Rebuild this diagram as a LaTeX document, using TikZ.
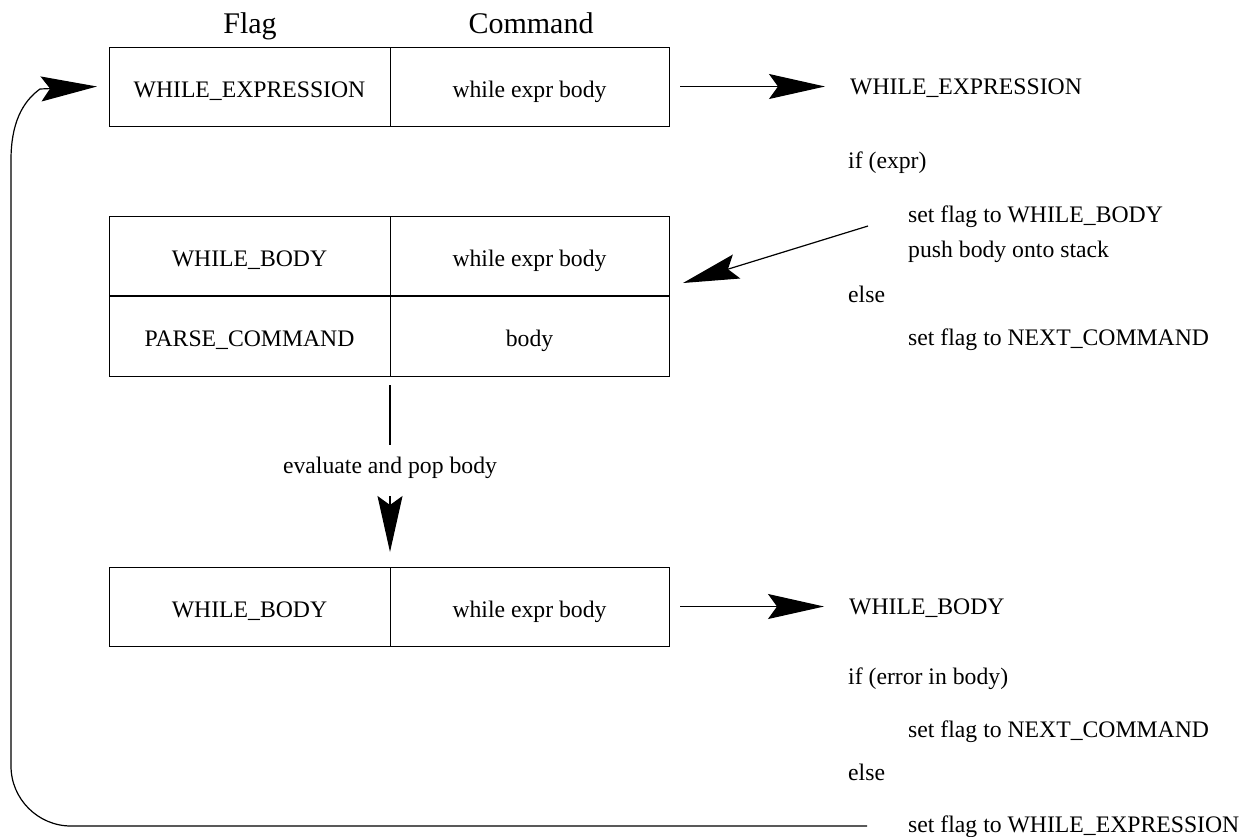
\documentclass[tikz,border=0pt]{standalone}
\usepackage{fontspec}
\setmainfont{Liberation Serif}
\usetikzlibrary{arrows.meta}
\begin{document}
\begin{tikzpicture}[x=1pt,y=-1pt,
  every node/.style={font=\fontsize{23.7pt}{28pt}\selectfont},
  cell/.style={draw, line width=1pt, minimum height=79pt, inner sep=0pt, outer sep=0pt,
    text height=21pt, text depth=0pt, anchor=north west},
  lcell/.style={cell, minimum width=281pt},
  rcell/.style={cell, minimum width=279pt},
  txt/.style={anchor=base west, inner sep=0pt},
  hdr/.style={font=\fontsize{30pt}{36pt}\selectfont, anchor=base, inner sep=0pt},
  con/.style={line width=1.2pt},
  arr/.style={con, -{Stealth[length=56pt,width=25pt,inset=9pt]}}]
\useasboundingbox (0,0) rectangle (1246,836);

% headers
\node[hdr] (hflag) at (250,33) {Flag};
\node[hdr] (hcmd) at (531,33) {Command};

% box 1
\node[lcell] (a1) at (109,47) {WHILE\_EXPRESSION};
\node[rcell] (a2) at (390,47) {while expr body};

% box 2
\node[lcell] (b1) at (109,216) {WHILE\_BODY};
\node[rcell] (b2) at (390,216) {while expr body};
\node[lcell, minimum height=80pt] (p1) at (109,296) {PARSE\_COMMAND};
\node[rcell, minimum height=80pt] (p2) at (390,296) {body};

% box 3
\node[lcell] (c1) at (109,567) {WHILE\_BODY};
\node[rcell] (c2) at (390,567) {while expr body};

% right texts
\node[txt] (r1) at (850,94) {WHILE\_EXPRESSION};
\node[txt] (r2) at (848,168) {if (expr)};
\node[txt] (r3) at (908,222) {set flag to WHILE\_BODY};
\node[txt] (r4) at (908,257) {push body onto stack};
\node[txt] (r5) at (848,302) {else};
\node[txt] (r6) at (908,345) {set flag to NEXT\_COMMAND};

\node[txt] (s1) at (849,614) {WHILE\_BODY};
\node[txt] (s2) at (848,684) {if (error in body)};
\node[txt] (s3) at (908,737) {set flag to NEXT\_COMMAND};
\node[txt] (s4) at (848,780) {else};
\node[txt] (s5) at (908,832) {set flag to WHILE\_EXPRESSION};

% middle label
\node[anchor=base, inner sep=0pt] (ev) at (390,473) {evaluate and pop body};

% connectors
\draw[arr] ([xshift=11pt]a2.east) -- ([xshift=-25pt]a2.east -| r1.west);
\draw[arr] ([xshift=11pt]c2.east) -- ([xshift=-25pt]c2.east -| s1.west);

\coordinate (dstart) at (868,226);
\draw[arr] (dstart) -- ([xshift=14pt,yshift=12pt]b2.south east);

\draw[con] ([yshift=-9pt]p1.south east) -- ([yshift=-69pt]p1.south east);
\draw[arr] ([yshift=-120pt]p1.south east) -- ([yshift=15pt]c1.north east);

\coordinate (lstart) at (867,826);
\draw[arr] (lstart) -- (71,826) .. controls (38,826) and (11,799) .. (11,766)
  -- (11,160) .. controls (11,124) and (22,102) .. (40,89)
  -- ([xshift=-12pt]a1.west);
\end{tikzpicture}
\end{document}
